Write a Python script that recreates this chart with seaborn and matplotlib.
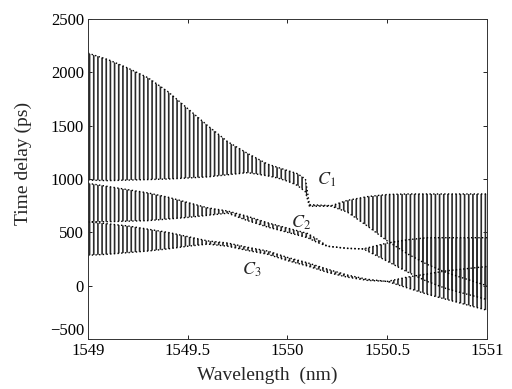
import matplotlib
matplotlib.use('Agg')
import matplotlib.pyplot as plt
import seaborn as sns

# envelopes of the three oscillating delay curves (ps)
wl_c1 = [1549.0, 1549.1, 1549.2, 1549.3, 1549.4, 1549.5, 1549.6, 1549.7, 1549.8, 1549.9,
         1549.95, 1550.0, 1550.05, 1550.09, 1550.11, 1550.22, 1550.3, 1550.4, 1550.5,
         1550.6, 1550.7, 1550.8, 1550.9, 1551.0]
up_c1 = [2180, 2120, 2040, 1950, 1820, 1660, 1500, 1350, 1240, 1140,
         1110, 1080, 1050, 1000, 760, 750, 800, 835, 855,
         860, 860, 860, 860, 860]
lo_c1 = [990, 985, 990, 995, 1000, 1010, 1020, 1040, 1060, 1030,
         1010, 980, 940, 880, 745, 745, 690, 560, 420,
         300, 200, 120, 60, 0]

wl_c2 = [1549.0, 1549.1, 1549.2, 1549.3, 1549.4, 1549.5, 1549.6, 1549.7, 1549.8, 1549.9,
         1550.0, 1550.1, 1550.15, 1550.2, 1550.3, 1550.38, 1550.5, 1550.6, 1550.7,
         1550.8, 1550.9, 1551.0]
up_c2 = [960, 930, 900, 870, 830, 780, 730, 700, 650, 590,
         540, 490, 435, 370, 350, 345, 400, 430, 450,
         450, 450, 450]
lo_c2 = [600, 600, 605, 610, 625, 640, 660, 680, 610, 550,
         500, 450, 405, 370, 350, 345, 230, 130, 40,
         -30, -80, -130]

wl_c3 = [1549.0, 1549.1, 1549.2, 1549.3, 1549.4, 1549.5, 1549.6, 1549.7, 1549.8, 1549.9,
         1550.0, 1550.1, 1550.2, 1550.3, 1550.4, 1550.5, 1550.6, 1550.7, 1550.8,
         1550.9, 1551.0]
up_c3 = [600, 580, 560, 530, 500, 460, 420, 400, 360, 325,
         265, 215, 155, 100, 60, 40, 80, 110, 140,
         160, 180]
lo_c3 = [285, 295, 310, 325, 345, 370, 390, 370, 330, 295,
         235, 185, 125, 80, 50, 40, -20, -80, -130,
         -180, -230]

curves = [(wl_c1, up_c1, lo_c1), (wl_c2, up_c2, lo_c2), (wl_c3, up_c3, lo_c3)]
labels = ['$C_1$', '$C_2$', '$C_3$']
label_pos = [(1550.15, 990), (1550.02, 585), (1549.77, 150)]

sns.set_style('ticks')
plt.rcParams['font.family'] = ['Liberation Serif', 'DejaVu Serif']
plt.rcParams['mathtext.fontset'] = 'stix'
plt.rcParams['hatch.linewidth'] = 1.2

fig = plt.figure(figsize=(5.12, 3.89), dpi=100)
ax = fig.add_axes([0.172, 0.1285, 0.779, 0.8225])

for wl, up, lo in curves:
    # dense oscillation drawn as vertical hatching between the envelopes
    ax.fill_between(wl, lo, up, facecolor='none', edgecolor='#2a2a2a',
                    hatch='||||', linewidth=0)
    sns.lineplot(x=wl, y=up, ax=ax, color='black', linestyle=':', linewidth=1.0)
    sns.lineplot(x=wl, y=lo, ax=ax, color='black', linestyle=':', linewidth=1.0)

for lab, (x, y) in zip(labels, label_pos):
    ax.text(x, y, lab, fontsize=13, ha='left', va='center')

ax.set_xlim(1549, 1551)
ax.set_ylim(-500, 2500)
ax.set_xticks([1549, 1549.5, 1550, 1550.5, 1551])
ax.set_xticklabels(['1549', '1549.5', '1550', '1550.5', '1551'])
ax.set_yticks([-500, 0, 500, 1000, 1500, 2000, 2500])
ax.set_yticklabels(['\u2212500', '0', '500', '1000', '1500', '2000', '2500'])
ax.tick_params(direction='in', top=True, right=True, length=3, width=0.6,
               labelsize=12, colors='black', pad=3)
# lift the bottom y label a little so it clears the first x label
ax.get_yticklabels()[0].set_va('bottom')
for sp in ax.spines.values():
    sp.set_visible(True)
    sp.set_linewidth(0.7)
    sp.set_linestyle((0, (1, 1)))
    sp.set_color('#333333')

ax.set_xlabel('Wavelength  (nm)', fontsize=14)
ax.set_ylabel('Time delay (ps)', fontsize=14)
ax.xaxis.set_label_coords(0.45, -0.085)
ax.yaxis.set_label_coords(-0.14, 0.55)

fig.savefig('out.png', dpi=100)
